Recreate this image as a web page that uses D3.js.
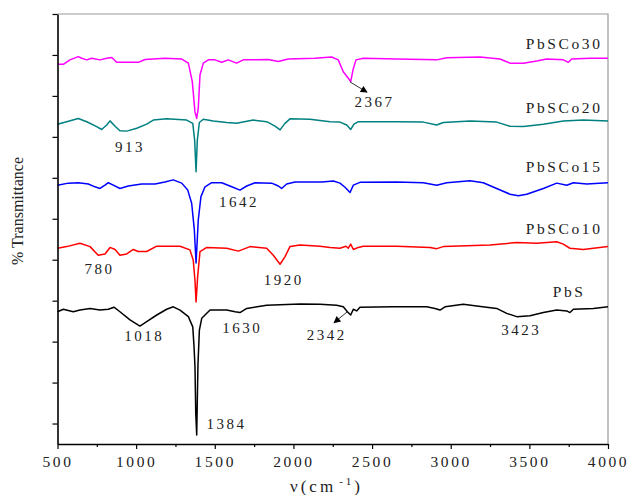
<!DOCTYPE html>
<html>
<head>
<meta charset="utf-8">
<script src="https://cdn.jsdelivr.net/npm/d3@7"></script>
<style>
  body { margin: 0; background: #fff; }
  text { font-family: "Liberation Serif", "Times New Roman", serif; fill: #222; }
</style>
</head>
<body>
<div id="chart"></div>
<script>
// spectra: [wavenumber, % transmittance (offset)]
const pbs = [[500,27.3],[537,27.9],[600,27.3],[643,27.7],[707,28.1],[770,27.7],[823,27.9],[859,28.4],[897,27.3],[961,25.3],[1024,23.8],[1067,24.9],[1131,26.5],[1194,27.9],[1236,28.5],[1279,27.7],[1332,26.1],[1360,23.6],[1368,18.8],[1374,13.9],[1379,2.5],[1385,-2.8],[1393,14.3],[1402,22.8],[1417,25.7],[1470,27.7],[1576,27.7],[1629,27.3],[1660,27.1],[1703,28.1],[1830,28.9],[2042,29.2],[2169,29.1],[2275,28.9],[2317,28.5],[2343,27.3],[2364,26.5],[2381,27.9],[2402,27.5],[2423,28.4],[2635,28.5],[2847,28.5],[2900,28.1],[2932,27.7],[2964,28.5],[3080,29.1],[3165,28.7],[3292,28.1],[3356,26.9],[3420,26.1],[3504,26.3],[3589,27.1],[3674,27.7],[3738,27.5],[3758,27.1],[3780,27.9],[3907,28.1],[4000,28.5]];
const co10 = [[500,42.8],[558,43.2],[643,44.0],[707,43.2],[759,41.1],[802,41.4],[834,43.0],[866,42.5],[897,41.1],[940,41.4],[982,42.5],[1014,42.0],[1067,42.0],[1131,43.3],[1279,43.3],[1342,42.4],[1363,39.9],[1374,35.0],[1381,29.7],[1391,35.8],[1406,42.0],[1449,43.0],[1576,42.8],[1650,42.1],[1724,43.2],[1830,42.8],[1872,41.1],[1915,38.9],[1946,40.7],[1978,43.2],[2042,43.6],[2169,43.3],[2233,43.0],[2296,42.8],[2334,43.3],[2349,42.8],[2364,43.8],[2381,42.5],[2413,43.0],[2444,43.3],[2657,43.3],[2868,43.0],[2911,42.7],[2953,43.2],[3250,43.6],[3420,44.2],[3547,44.0],[3674,44.4],[3716,43.8],[3758,42.8],[3843,42.5],[4000,43.2]];
const co15 = [[500,58.2],[569,58.7],[632,58.8],[696,58.5],[738,57.8],[770,57.4],[802,58.2],[823,58.8],[855,58.2],[897,57.4],[950,58.0],[1035,58.5],[1120,58.5],[1183,59.0],[1236,59.5],[1290,58.7],[1328,57.0],[1353,53.8],[1370,47.3],[1381,39.2],[1395,49.7],[1412,55.4],[1438,57.8],[1480,58.8],[1544,58.8],[1608,57.8],[1660,57.0],[1703,58.0],[1756,58.8],[1862,58.7],[1904,58.0],[1925,57.4],[1957,58.5],[2010,59.0],[2180,59.0],[2254,59.2],[2296,58.7],[2328,57.7],[2360,56.4],[2381,58.2],[2423,58.9],[2657,59.0],[2826,58.8],[2911,58.2],[2975,58.8],[3123,59.3],[3207,58.8],[3292,57.4],[3377,56.0],[3430,55.6],[3483,56.0],[3589,57.4],[3674,58.7],[3738,58.2],[3780,58.8],[3865,58.5],[4000,58.8]];
const co20 = [[500,73.1],[558,73.7],[632,74.5],[686,73.7],[749,72.5],[781,71.8],[813,72.9],[834,73.9],[866,72.6],[897,71.5],[940,71.4],[1004,72.1],[1067,73.1],[1109,74.1],[1194,74.4],[1321,74.1],[1360,73.3],[1372,69.2],[1381,61.5],[1389,69.2],[1402,73.5],[1427,74.3],[1491,73.9],[1576,73.5],[1639,73.3],[1745,74.1],[1830,73.7],[1883,72.6],[1915,71.7],[1946,73.3],[1978,74.4],[2105,74.3],[2233,73.7],[2296,73.6],[2339,72.9],[2364,71.8],[2385,73.1],[2413,73.7],[2657,73.7],[2826,73.6],[2911,72.9],[2953,73.5],[3123,73.9],[3292,73.6],[3377,72.6],[3462,72.5],[3589,73.1],[3716,73.9],[3843,74.1],[4000,73.9]];
const co30 = [[500,87.7],[537,87.7],[579,88.8],[632,89.6],[654,89.2],[686,88.8],[717,89.2],[770,88.8],[813,89.2],[845,89.4],[876,88.2],[908,88.2],[1014,88.2],[1056,88.9],[1183,89.2],[1290,89.0],[1332,88.0],[1357,83.5],[1374,76.1],[1385,74.5],[1395,77.0],[1406,85.1],[1427,88.0],[1459,88.8],[1501,88.8],[1544,88.2],[1586,88.8],[1639,88.0],[1681,88.8],[1756,88.8],[1840,88.9],[1904,88.4],[1967,89.0],[2137,89.2],[2243,89.5],[2285,88.8],[2317,85.9],[2349,84.3],[2364,83.5],[2381,86.7],[2398,88.8],[2444,89.2],[2657,89.0],[2911,88.8],[2975,89.3],[3186,89.5],[3313,89.0],[3377,88.0],[3462,88.0],[3547,88.5],[3610,89.0],[3716,88.8],[3748,88.2],[3769,89.0],[3886,89.2],[4000,89.2]];

const seriesNames = ['PbS', 'PbSCo10', 'PbSCo15', 'PbSCo20', 'PbSCo30'];
const seriesData = [pbs, co10, co15, co20, co30];
const seriesColors = ['#000000', '#ff0000', '#0000ff', '#008080', '#ff00ff'];
// where each name sits: [wavenumber of right end, transmittance]
const nameSpots = [[3857, 32.2], [3965, 47.7], [3965, 62.7], [3965, 77.2], [3965, 92.8]];

// peak labels: text, wavenumber, transmittance of the label centre
const peakText = ['780', '913', '1018', '1384', '1630', '1642', '1920', '2342', '2367', '3423'];
const peakX = [759, 953, 1043, 1566, 1666, 1646, 1931, 2204, 2508, 3441];
const peakY = [37.7, 67.6, 21.4, 0, 23.4, 54.2, 35.0, 21.6, 78.6, 22.8];
// arrows: [from wn, from T, to wn, to T]
const arrows = [[2360, 83.4, 2468, 80.9], [2343, 27.3, 2258, 24.6]];

const xTicks = [500, 1000, 1500, 2000, 2500, 3000, 3500, 4000];
const xMinor = [750, 1250, 1750, 2250, 2750, 3250, 3750];
const yTicks = [0, 10, 20, 30, 40, 50, 60, 70, 80, 90, 100];

const width = 628;
const height = 495;
const mLeft = 57.5, mRight = 608, mTop = 14, mBottom = 444;

const svg = d3.select('#chart')
  .append('svg')
  .attr('width', width)
  .attr('height', height)
  .style('background-color', '#fff');

const x = d3.scaleLinear().domain([500, 4000]).range([mLeft, mRight]);
const y = d3.scaleLinear().domain([-5, 100]).range([mBottom, mTop]);

svg.append('defs').append('marker')
  .attr('id', 'head')
  .attr('viewBox', '0 0 10 10')
  .attr('refX', 9).attr('refY', 5)
  .attr('markerWidth', 9).attr('markerHeight', 7)
  .attr('markerUnits', 'userSpaceOnUse')
  .attr('orient', 'auto')
  .append('path')
  .attr('d', 'M0,0L10,5L0,10z')
  .attr('fill', '#000');

// top / right frame in grey
svg.append('path')
  .attr('d', `M${mLeft},${mTop}H${mRight}V${mBottom}`)
  .attr('fill', 'none')
  .attr('stroke', '#999')
  .attr('stroke-width', 1.2);

const line = d3.line().x(d => x(d[0])).y(d => y(d[1]));

svg.selectAll('path.spec')
  .data(seriesData)
  .enter()
  .append('path')
  .attr('class', 'spec')
  .attr('d', line)
  .attr('fill', 'none')
  .attr('stroke', (d, i) => seriesColors[i])
  .attr('stroke-width', 1.5)
  .attr('stroke-linejoin', 'round');

// axes
const gx = svg.append('g')
  .attr('transform', `translate(0,${mBottom})`)
  .call(d3.axisBottom(x).tickValues(xTicks).tickSize(5).tickSizeOuter(0).tickFormat(d3.format('d')));
svg.append('g')
  .attr('transform', `translate(0,${mBottom})`)
  .call(d3.axisBottom(x).tickValues(xMinor).tickSize(3).tickSizeOuter(0).tickFormat(''))
  .select('.domain').remove();
svg.append('g')
  .attr('transform', `translate(${mLeft},0)`)
  .call(d3.axisLeft(y).tickValues(yTicks).tickSize(5).tickSizeOuter(0).tickFormat(''));

svg.selectAll('.domain').attr('stroke', '#000').attr('stroke-width', 1.6);
svg.selectAll('.tick line').attr('stroke', '#000').attr('stroke-width', 1.2);
gx.selectAll('.tick text')
  .attr('y', 12)
  .style('font-family', '"Liberation Serif", serif')
  .style('font-size', '15.5px')
  .style('letter-spacing', '2.6px')
  .attr('fill', '#222');

// axis titles
svg.append('text')
  .attr('transform', 'translate(23,211) rotate(-90)')
  .attr('text-anchor', 'middle')
  .style('font-size', '16px')
  .text('% Transmittance');

const xt = svg.append('text')
  .attr('x', 290)
  .attr('y', 492)
  .style('font-size', '17px')
  .style('letter-spacing', '3px');
xt.append('tspan').text('ν(cm');
xt.append('tspan').attr('dy', -7).attr('dx', 3).style('font-size', '11px').text('-1');
xt.append('tspan').attr('dy', 7).text(')');

// sample names
svg.selectAll('text.name')
  .data(seriesNames)
  .enter()
  .append('text')
  .attr('class', 'name')
  .attr('x', (d, i) => x(nameSpots[i][0]))
  .attr('y', (d, i) => y(nameSpots[i][1]) + 5.5)
  .attr('text-anchor', 'end')
  .style('font-size', '15.5px')
  .style('letter-spacing', '2.6px')
  .text(d => d);

// peak labels
svg.selectAll('text.peak')
  .data(peakText)
  .enter()
  .append('text')
  .attr('class', 'peak')
  .attr('x', (d, i) => x(peakX[i]) + 1.25)
  .attr('y', (d, i) => y(peakY[i]) + 5.2)
  .attr('text-anchor', 'middle')
  .style('font-size', '15px')
  .style('letter-spacing', '2.5px')
  .text(d => d);

svg.selectAll('line.arrow')
  .data(arrows)
  .enter()
  .append('line')
  .attr('class', 'arrow')
  .attr('x1', d => x(d[0]))
  .attr('y1', d => y(d[1]))
  .attr('x2', d => x(d[2]))
  .attr('y2', d => y(d[3]))
  .attr('stroke', '#000')
  .attr('stroke-width', 0.8)
  .attr('marker-end', 'url(#head)');
</script>
</body>
</html>
